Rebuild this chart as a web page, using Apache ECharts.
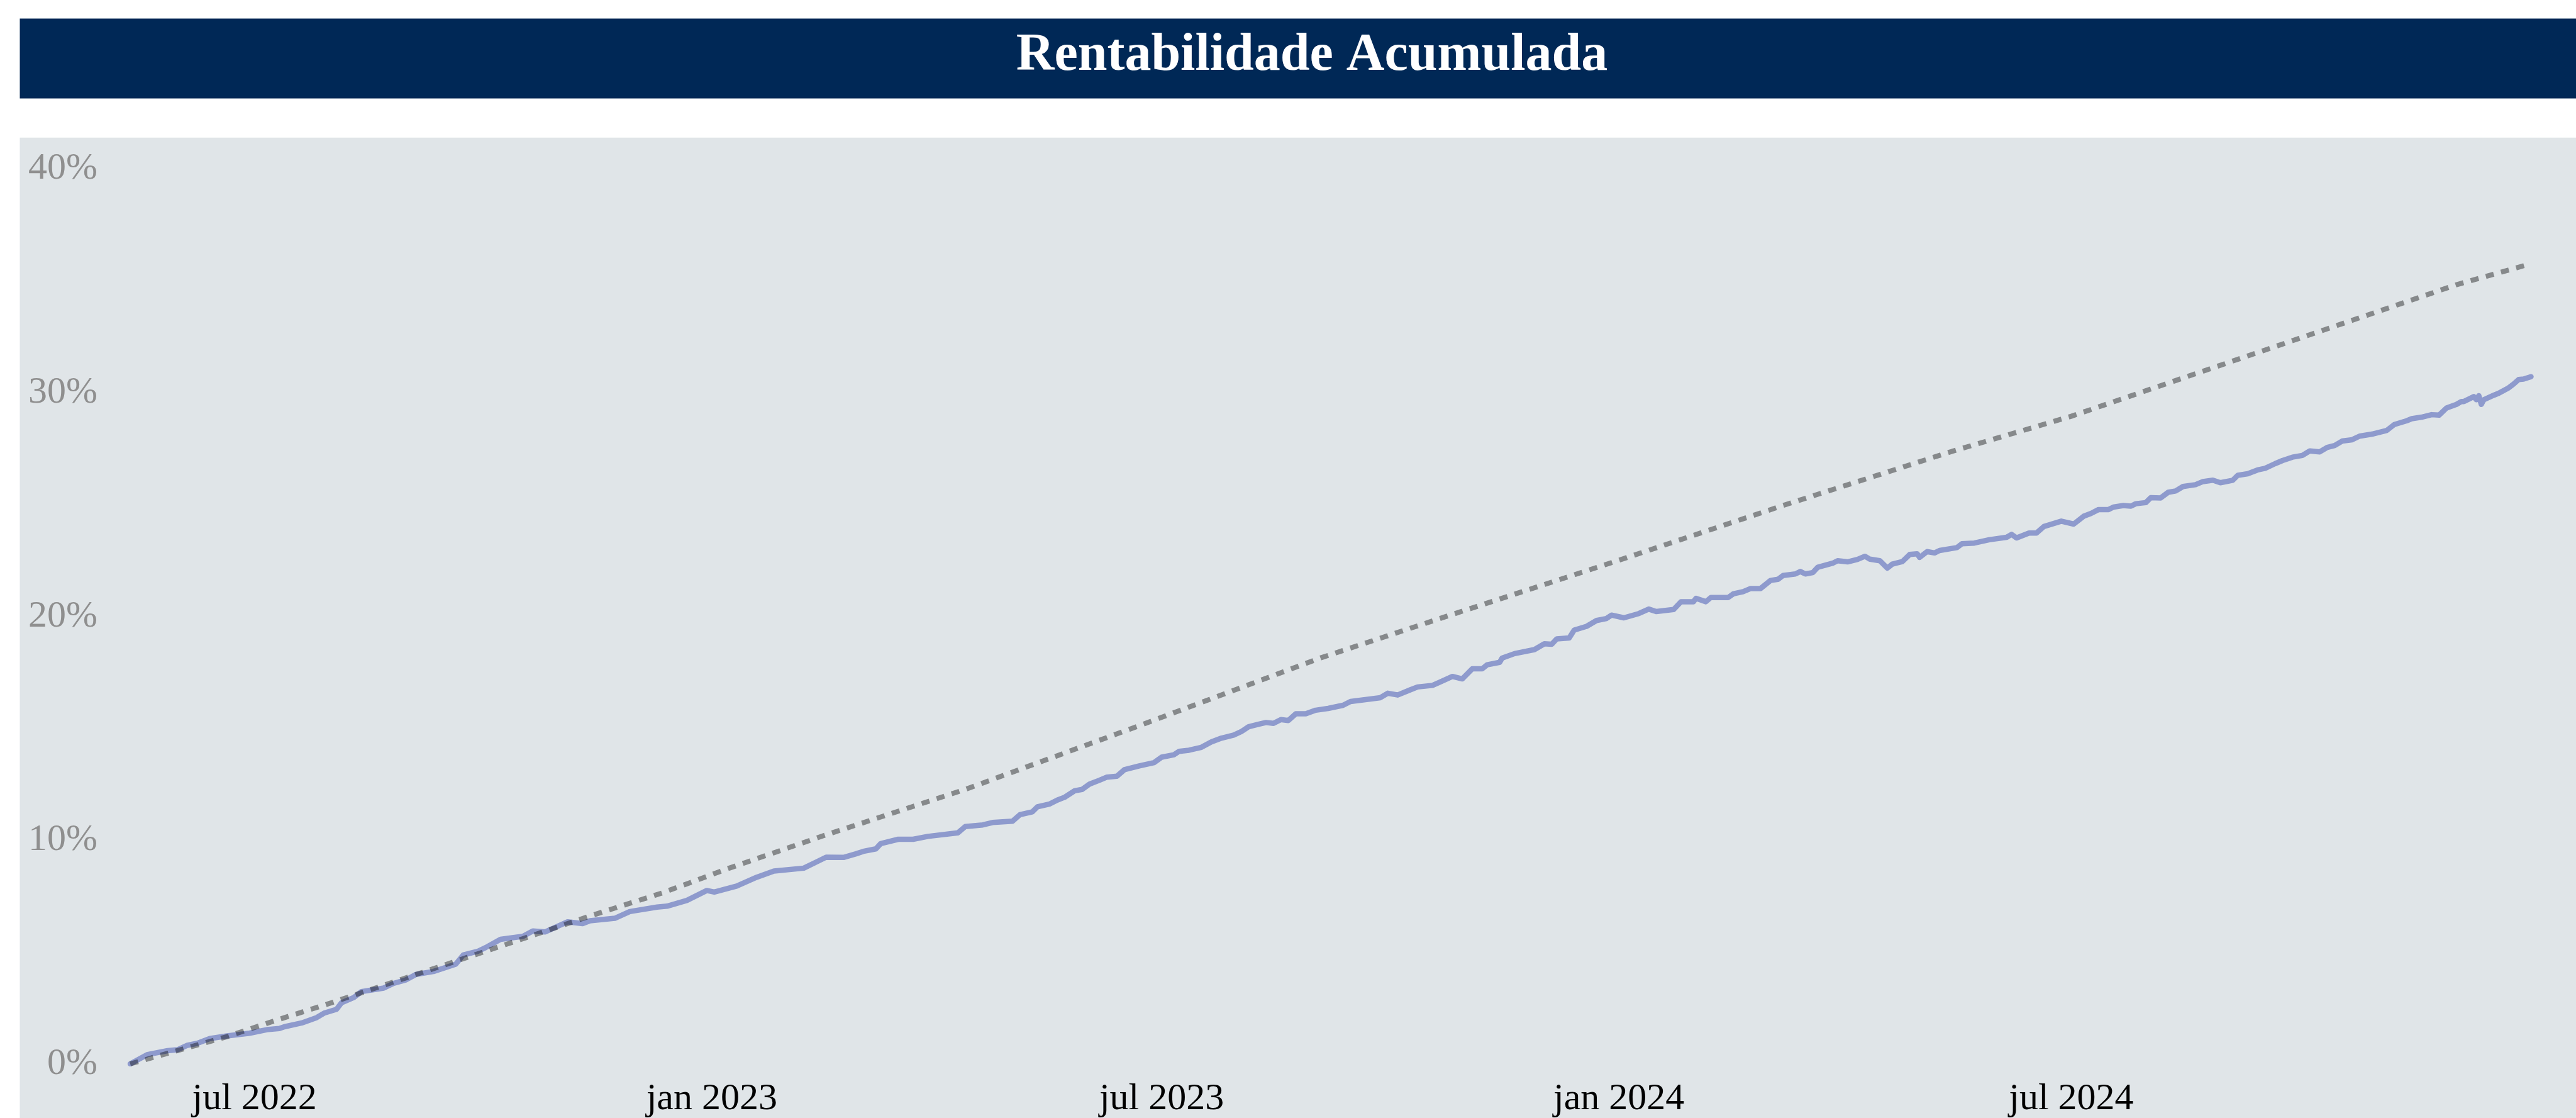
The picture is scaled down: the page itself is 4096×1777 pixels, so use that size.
<!DOCTYPE html>
<html>
<head>
<meta charset="utf-8">
<title>Rentabilidade Acumulada</title>
<script src="https://cdn.jsdelivr.net/npm/echarts@6/dist/echarts.min.js"></script>
<style>
    html, body {
        margin: 0;
        padding: 0;
        background: #ffffff;
    }

    #main {
        width: 4096px;
        height: 1777px;
    }
</style>
</head>
<body>
<div id="main"></div>
<script type="text/javascript">
    // fundo (linha cheia)
    var fundDates = [
        '2022-05-12', '2022-05-19', '2022-05-27', '2022-05-31', '2022-06-04', '2022-06-08', '2022-06-13', '2022-06-20',
        '2022-06-29', '2022-07-06', '2022-07-11', '2022-07-13', '2022-07-20', '2022-07-26', '2022-07-29', '2022-08-03',
        '2022-08-05', '2022-08-10', '2022-08-13', '2022-08-22', '2022-08-26', '2022-08-31', '2022-09-04', '2022-09-11',
        '2022-09-20', '2022-09-23', '2022-09-29', '2022-10-02', '2022-10-08', '2022-10-17', '2022-10-21', '2022-10-26',
        '2022-11-04', '2022-11-10', '2022-11-13', '2022-11-23', '2022-11-29', '2022-12-10', '2022-12-14', '2022-12-22',
        '2022-12-30', '2023-01-02', '2023-01-11', '2023-01-19', '2023-01-26', '2023-02-07', '2023-02-12', '2023-02-16',
        '2023-02-23', '2023-02-28', '2023-03-03', '2023-03-08', '2023-03-10', '2023-03-17', '2023-03-23', '2023-03-29',
        '2023-04-10', '2023-04-13', '2023-04-20', '2023-04-24', '2023-05-02', '2023-05-05', '2023-05-10', '2023-05-12',
        '2023-05-17', '2023-05-20', '2023-05-23', '2023-05-27', '2023-05-30', '2023-06-02', '2023-06-06', '2023-06-09',
        '2023-06-13', '2023-06-16', '2023-06-22', '2023-06-28', '2023-07-01', '2023-07-06', '2023-07-08', '2023-07-12',
        '2023-07-17', '2023-07-21', '2023-07-25', '2023-07-30', '2023-08-02', '2023-08-05', '2023-08-09', '2023-08-12',
        '2023-08-15', '2023-08-18', '2023-08-21', '2023-08-24', '2023-08-28', '2023-09-01', '2023-09-06', '2023-09-12',
        '2023-09-15', '2023-09-20', '2023-09-27', '2023-09-30', '2023-10-04', '2023-10-09', '2023-10-12', '2023-10-18',
        '2023-10-21', '2023-10-26', '2023-10-30', '2023-11-03', '2023-11-07', '2023-11-09', '2023-11-14', '2023-11-15',
        '2023-11-20', '2023-11-28', '2023-12-02', '2023-12-05', '2023-12-07', '2023-12-12', '2023-12-14', '2023-12-19',
        '2023-12-23', '2023-12-27', '2023-12-29', '2024-01-03', '2024-01-09', '2024-01-13', '2024-01-16', '2024-01-23',
        '2024-01-26', '2024-01-31', '2024-02-01', '2024-02-05', '2024-02-07', '2024-02-14', '2024-02-16', '2024-02-20',
        '2024-02-23', '2024-02-27', '2024-03-02', '2024-03-05', '2024-03-07', '2024-03-12', '2024-03-14', '2024-03-16',
        '2024-03-19', '2024-03-21', '2024-03-27', '2024-03-29', '2024-04-02', '2024-04-06', '2024-04-09', '2024-04-11',
        '2024-04-15', '2024-04-18', '2024-04-20', '2024-04-24', '2024-04-27', '2024-04-30', '2024-05-01', '2024-05-04',
        '2024-05-07', '2024-05-09', '2024-05-16', '2024-05-18', '2024-05-23', '2024-05-29', '2024-06-05', '2024-06-07',
        '2024-06-09', '2024-06-14', '2024-06-17', '2024-06-20', '2024-06-27', '2024-07-02', '2024-07-06', '2024-07-09',
        '2024-07-12', '2024-07-16', '2024-07-18', '2024-07-22', '2024-07-25', '2024-07-27', '2024-07-31', '2024-08-02',
        '2024-08-06', '2024-08-09', '2024-08-12', '2024-08-15', '2024-08-20', '2024-08-23', '2024-08-27', '2024-08-30',
        '2024-09-04', '2024-09-06', '2024-09-10', '2024-09-14', '2024-09-17', '2024-09-21', '2024-09-24', '2024-09-28',
        '2024-10-02', '2024-10-05', '2024-10-09', '2024-10-12', '2024-10-15', '2024-10-18', '2024-10-22', '2024-10-25',
        '2024-10-30', '2024-11-05', '2024-11-08', '2024-11-13', '2024-11-15', '2024-11-19', '2024-11-23', '2024-11-26',
        '2024-11-29', '2024-12-03', '2024-12-05', '2024-12-06', '2024-12-10', '2024-12-11', '2024-12-12', '2024-12-13',
        '2024-12-14', '2024-12-18', '2024-12-20', '2024-12-24', '2024-12-26', '2024-12-28', '2024-12-30', '2025-01-02'
    ];
    var fundValues = [
        0.00, 0.42, 0.59, 0.63, 0.83, 0.92, 1.13, 1.25,
        1.37, 1.53, 1.58, 1.66, 1.83, 2.07, 2.27, 2.44,
        2.73, 2.97, 3.23, 3.39, 3.60, 3.76, 4.00, 4.13,
        4.46, 4.87, 5.04, 5.20, 5.57, 5.70, 5.94, 5.90,
        6.35, 6.27, 6.40, 6.51, 6.81, 7.01, 7.05, 7.31,
        7.75, 7.68, 7.95, 8.34, 8.62, 8.75, 9.02, 9.24,
        9.23, 9.39, 9.50, 9.61, 9.85, 10.04, 10.04, 10.17,
        10.33, 10.61, 10.68, 10.79, 10.85, 11.14, 11.27, 11.49,
        11.62, 11.79, 11.92, 12.21, 12.27, 12.51, 12.68, 12.82,
        12.86, 13.15, 13.32, 13.47, 13.71, 13.82, 13.97, 14.02,
        14.15, 14.39, 14.56, 14.70, 14.85, 15.07, 15.18, 15.26,
        15.22, 15.39, 15.35, 15.65, 15.65, 15.81, 15.89, 16.03,
        16.20, 16.27, 16.37, 16.57, 16.49, 16.72, 16.85, 16.92,
        17.07, 17.32, 17.21, 17.66, 17.66, 17.84, 17.95, 18.14,
        18.34, 18.52, 18.78, 18.76, 19.00, 19.04, 19.39, 19.56,
        19.82, 19.91, 20.06, 19.94, 20.13, 20.33, 20.22, 20.31,
        20.66, 20.66, 20.81, 20.66, 20.85, 20.85, 21.01, 21.11,
        21.25, 21.25, 21.61, 21.66, 21.83, 21.90, 22.01, 21.90,
        21.96, 22.20, 22.38, 22.49, 22.44, 22.55, 22.69, 22.56,
        22.49, 22.16, 22.34, 22.45, 22.77, 22.80, 22.64, 22.90,
        22.84, 22.95, 23.08, 23.25, 23.28, 23.43, 23.54, 23.67,
        23.51, 23.73, 23.73, 24.02, 24.26, 24.13, 24.48, 24.61,
        24.78, 24.78, 24.89, 24.96, 24.93, 25.04, 25.09, 25.31,
        25.30, 25.55, 25.61, 25.81, 25.89, 26.03, 26.09, 25.98,
        26.09, 26.31, 26.38, 26.55, 26.62, 26.83, 26.97, 27.12,
        27.20, 27.40, 27.36, 27.56, 27.64, 27.84, 27.90, 28.06,
        28.15, 28.32, 28.58, 28.75, 28.84, 28.91, 29.02, 29.00,
        29.32, 29.48, 29.61, 29.61, 29.83, 29.69, 29.87, 29.48,
        29.69, 29.89, 29.98, 30.22, 30.39, 30.59, 30.61, 30.72
    ];

    // benchmark (linha pontilhada)
    var cdiDates = [
        '2022-05-12', '2022-06-20', '2022-07-10', '2022-07-30', '2022-10-11', '2022-11-13', '2022-12-12',
        '2023-01-08', '2023-02-16', '2023-04-13', '2023-06-24', '2023-09-03', '2023-10-24', '2023-12-30',
        '2024-03-07', '2024-05-14', '2024-07-01', '2024-08-20', '2024-10-11', '2024-12-03', '2025-01-02'
    ];
    var cdiValues = [
        0.00, 1.22, 1.96, 2.66, 5.37, 6.61, 7.64,
        8.75, 10.24, 12.27, 15.20, 18.15, 20.02, 22.44,
        24.96, 27.38, 28.95, 30.85, 32.82, 34.83, 35.77
    ];

    var tickDates = ['2022-07-01', '2023-01-01', '2023-07-01', '2024-01-01', '2024-07-01'];
    var tickLabels = ['jul 2022', 'jan 2023', 'jul 2023', 'jan 2024', 'jul 2024'];
    var xStart = '2022-05-05 09:36';
    var xEnd = '2025-01-20 02:24';
    var yMin = 0;
    var yMax = 40;
    var yStep = 10;

    var serif = "'Liberation Serif', 'Times New Roman', serif";

    function toTime(d) {
        return echarts.time.parse(d).getTime();
    }

    var tickTimes = tickDates.map(toTime);

    function pairs(dates, values) {
        return dates.map(function (d, i) {
            return [toTime(d), values[i]];
        });
    }

    var chartDom = document.getElementById('main');
    var chart = echarts.init(chartDom, null, { renderer: 'canvas' });

    var option = {
        animation: false,
        backgroundColor: '#ffffff',
        textStyle: { fontFamily: serif },
        graphic: [
            {
                type: 'rect',
                z: 0,
                shape: { x: 31.5, y: 29.6, width: 4064.5, height: 126.8 },
                style: { fill: '#002856' }
            },
            {
                type: 'text',
                z: 1,
                style: {
                    text: 'Rentabilidade Acumulada',
                    x: 2086,
                    y: 89,
                    textAlign: 'center',
                    textVerticalAlign: 'middle',
                    fill: '#ffffff',
                    font: "bold 84px 'Liberation Serif', 'Times New Roman', serif"
                }
            },
            {
                type: 'rect',
                z: 0,
                shape: { x: 31.5, y: 218.8, width: 4064.5, height: 1558.2 },
                style: { fill: '#e0e5e8' }
            }
        ],
        grid: {
            left: 181,
            right: 0,
            top: 268.7,
            bottom: 83.9,
            containLabel: false
        },
        xAxis: {
            type: 'value',
            min: toTime(xStart),
            max: toTime(xEnd),
            axisLine: { show: false },
            axisTick: { show: false },
            splitLine: { show: false },
            axisLabel: {
                customValues: tickTimes,
                margin: 26,
                color: '#000000',
                fontSize: 60,
                fontFamily: serif,
                formatter: function (val) {
                    for (var i = 0; i < tickTimes.length; i++) {
                        if (Math.abs(tickTimes[i] - val) < 43200000) {
                            return tickLabels[i];
                        }
                    }
                    return '';
                }
            }
        },
        yAxis: {
            type: 'value',
            min: yMin,
            max: yMax,
            interval: yStep,
            axisLine: { show: false },
            axisTick: { show: false },
            splitLine: { show: false },
            axisLabel: {
                margin: 26,
                padding: [0, 0, 14, 0],
                color: '#8f8f8f',
                fontSize: 60,
                fontFamily: serif,
                formatter: '{value}%'
            }
        },
        series: [
            {
                name: 'Fundo',
                type: 'line',
                z: 3,
                showSymbol: false,
                symbol: 'none',
                data: pairs(fundDates, fundValues),
                lineStyle: {
                    color: '#8e9acd',
                    width: 8.5,
                    cap: 'round',
                    join: 'round'
                }
            },
            {
                name: 'CDI',
                type: 'line',
                z: 4,
                showSymbol: false,
                symbol: 'none',
                data: pairs(cdiDates, cdiValues),
                lineStyle: {
                    color: 'rgba(0, 0, 0, 0.4)',
                    width: 8,
                    type: [13, 12],
                    cap: 'butt'
                }
            }
        ]
    };

    chart.setOption(option);
</script>
</body>
</html>
